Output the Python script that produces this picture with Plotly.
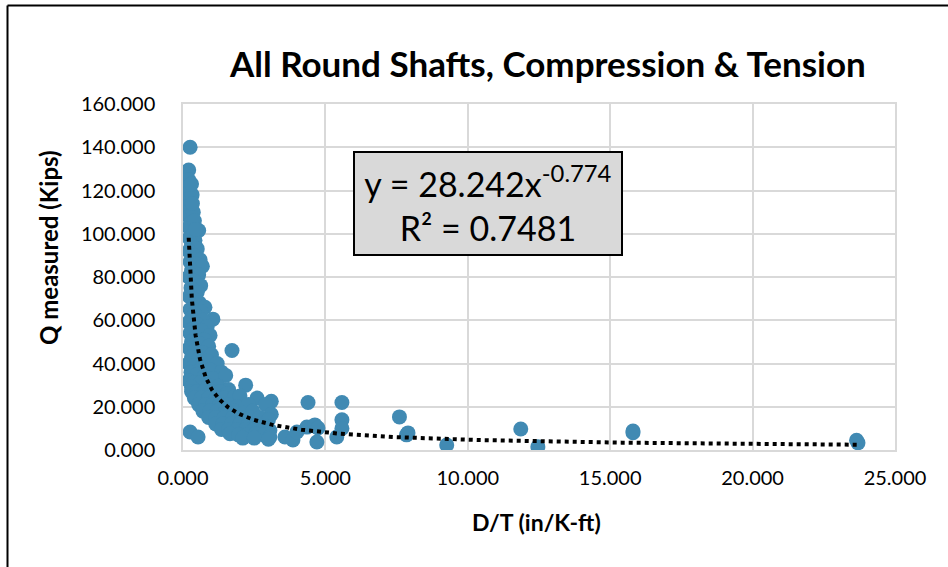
import numpy as np
import plotly.graph_objects as go

# ---- data ----
dt_values = [
    # slender column near x ~ 0.2
    0.25, 0.2, 0.2, 0.2, 0.2, 0.22, 0.2, 0.24, 0.2, 0.28, 0.2, 0.55, 0.35, 0.22, 0.42,
    0.3, 0.5, 0.2, 0.38, 0.6, 0.25, 0.45, 0.68, 0.3, 0.55, 0.2, 0.4, 0.62, 0.28, 0.5,
    0.22, 0.35, 0.58, 0.45, 0.77, 0.25, 0.62, 0.4, 0.3, 1.05, 0.7, 0.2, 0.5, 0.85, 0.35,
    0.65, 0.25, 0.95, 0.45, 0.75, 0.3, 0.6, 0.9, 1.72, 0.22, 0.42, 0.7, 1.0, 0.3, 0.55,
    0.85, 1.2, 0.2, 0.4, 0.65, 0.95, 1.35, 0.28, 0.5, 0.75, 1.05, 1.5, 0.2, 0.38, 0.6,
    0.9, 1.25, 2.2, 1.6, 0.3,
    0.32, 0.3, 0.36, 0.33, 0.4, 0.45,
    # lower band
    0.3, 0.5, 0.75, 1.0, 1.3, 1.55,
    0.4, 0.65, 0.9, 1.15, 1.45, 1.8, 2.0, 2.6,
    0.55, 0.8, 1.05, 1.3, 1.6, 1.9, 2.3, 3.1, 2.9,
    0.7, 0.95, 1.2, 1.5, 1.8, 2.1, 2.45, 3.1,
    0.9, 1.15, 1.45, 1.75, 2.05, 2.35, 2.7, 3.0,
    1.15, 1.4, 1.7, 2.0, 2.3, 2.6, 2.95,
    1.35, 1.6, 1.9, 2.2, 2.5, 2.8, 3.05,
    1.65, 1.95, 2.25, 2.55, 2.85, 3.05,
    2.1, 2.5, 3.0,
    0.25, 0.53,
    # scattered tail
    3.58, 3.86, 4.0, 4.35, 4.63, 4.74, 4.7, 4.39,
    5.58, 5.58, 5.58, 5.4,
    7.6, 7.9, 7.85, 9.26, 11.86, 12.46, 15.8, 15.8, 23.7, 23.65,
]
q_values = [
    140.0, 129.5, 125.0, 122.0, 119.0, 116.0, 113.0, 111.0, 108.0, 105.0, 103.0, 101.5, 100.0, 98.0, 97.0,
    95.0, 93.0, 92.0, 90.0, 88.0, 87.0, 86.0, 85.0, 83.0, 81.0, 80.0, 78.0, 76.0, 75.0, 73.0,
    71.0, 70.0, 68.0, 67.0, 66.0, 65.0, 64.0, 63.0, 61.0, 60.5, 60.0, 59.0, 58.0, 57.0, 56.0,
    55.0, 54.0, 53.0, 52.0, 51.0, 50.0, 49.0, 48.0, 46.0, 47.0, 46.0, 45.0, 44.0, 43.0, 42.0,
    41.0, 40.0, 40.0, 39.0, 38.0, 37.0, 36.0, 36.0, 35.0, 34.0, 33.0, 34.5, 32.0, 31.0, 31.0,
    30.0, 29.5, 30.0, 28.0, 29.0,
    118.0, 123.0, 110.0, 114.0, 106.0, 102.0,
    27.0, 27.0, 27.0, 27.0, 27.0, 26.0,
    24.0, 24.0, 24.0, 24.0, 24.0, 24.5, 25.0, 24.0,
    21.0, 21.0, 21.0, 21.0, 21.0, 20.0, 21.0, 22.5, 21.0,
    18.0, 18.0, 18.0, 18.0, 18.0, 17.0, 18.0, 16.5,
    15.0, 15.0, 15.0, 15.0, 15.0, 15.0, 15.0, 14.0,
    12.0, 12.0, 12.0, 12.0, 12.0, 12.0, 11.0,
    9.5, 9.5, 9.5, 9.5, 9.5, 9.5, 9.0,
    7.5, 7.0, 7.0, 7.5, 7.0, 6.0,
    5.5, 5.5, 5.0,
    8.3, 6.0,
    6.0, 4.6, 8.3, 10.6, 11.6, 10.2, 3.7, 22.0,
    22.0, 14.0, 10.0, 6.0,
    15.3, 7.9, 7.0, 2.3, 9.7, 1.5, 8.0, 8.8, 3.3, 4.5,
]

trend_coef = 28.242
trend_exp = -0.774
r_squared = 0.7481

x_ticks = [0, 5, 10, 15, 20, 25]
y_ticks = [0, 20, 40, 60, 80, 100, 120, 140, 160]

title_text = "All Round Shafts, Compression &amp; Tension"
x_title = "D/T (in/K-ft)"
y_title = "Q measured (Kips)"

# ---- layout geometry (pixels) ----
W, H = 948, 567
L, R, T, B = 183, 895, 104, 450
pw, ph = R - L, B - T


def px_x(p):
    return (p - L) / pw


def px_y(p):
    return (B - p) / ph


FONT = "Lato"
POINT_COLOR = "#418AB3"

fig = go.Figure()
fig.add_trace(go.Scatter(
    x=dt_values, y=q_values, mode="markers",
    marker=dict(size=15, color=POINT_COLOR, line=dict(width=0)),
    showlegend=False, hoverinfo="x+y",
))

tx = np.geomspace(min(dt_values), max(dt_values), 300)
ty = trend_coef * tx ** trend_exp
fig.add_trace(go.Scatter(
    x=tx, y=ty, mode="lines",
    line=dict(color="black", width=4, dash="4px,4px"),
    showlegend=False, hoverinfo="skip",
))

grid = "#d9d9d9"
fig.update_xaxes(
    range=[0, 25], tickvals=x_ticks, tickformat=".3f",
    showgrid=True, gridcolor=grid, gridwidth=1.5,
    showline=True, linecolor=grid, linewidth=1.5, mirror=True,
    zeroline=False, ticks="", ticklabelstandoff=9,
    tickfont=dict(family=FONT, size=20, color="#000"),
)
fig.update_yaxes(
    range=[0, 160], tickvals=y_ticks, tickformat=".3f",
    showgrid=True, gridcolor=grid, gridwidth=1.5,
    showline=True, linecolor=grid, linewidth=1.5, mirror=True,
    zeroline=False, ticks="", ticklabelstandoff=22,
    tickfont=dict(family=FONT, size=20, color="#000"),
)

annotations = [
    dict(text="<b>" + title_text + "</b>", xref="paper", yref="paper",
         x=px_x(547), y=px_y(63), xanchor="center", yanchor="middle",
         showarrow=False, font=dict(family=FONT, size=35, color="#000")),
    dict(text="<b>" + x_title + "</b>", xref="paper", yref="paper",
         x=px_x(536), y=px_y(522), xanchor="center", yanchor="middle",
         showarrow=False, font=dict(family=FONT, size=23, color="#000")),
    dict(text="<b>" + y_title + "</b>", xref="paper", yref="paper",
         x=px_x(48), y=px_y(248), xanchor="center", yanchor="middle",
         textangle=-90, showarrow=False, font=dict(family=FONT, size=24, color="#000")),
    dict(text=f"y = {trend_coef:.3f}x<sup>{trend_exp:.3f}</sup><br>R² = {r_squared:.4f}",
         xref="paper", yref="paper", x=px_x(488), y=px_y(203.5),
         xanchor="center", yanchor="middle", showarrow=False,
         width=262, height=97, align="center", valign="middle",
         bgcolor="#d9d9d9", bordercolor="#000", borderwidth=2, borderpad=2,
         font=dict(family=FONT, size=34, color="#000")),
]

shapes = [
    dict(type="line", xref="paper", yref="paper",
         x0=px_x(7.5), y0=px_y(5.5), x1=px_x(960), y1=px_y(5.5),
         line=dict(color="#000", width=2)),
    dict(type="line", xref="paper", yref="paper",
         x0=px_x(7.5), y0=px_y(5.5), x1=px_x(7.5), y1=px_y(580),
         line=dict(color="#000", width=2)),
]

fig.update_layout(
    width=W, height=H,
    margin=dict(l=L, r=W - R, t=T, b=H - B, pad=0),
    paper_bgcolor="white", plot_bgcolor="white",
    annotations=annotations, shapes=shapes,
    showlegend=False,
)

fig.write_html("out.html", include_plotlyjs=True, full_html=True,
               config={"displayModeBar": False})
